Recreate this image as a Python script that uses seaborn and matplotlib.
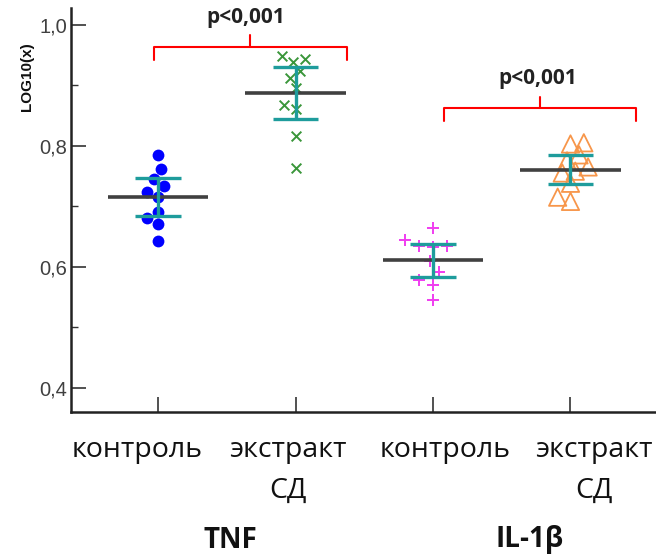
import numpy as np
import pandas as pd
import matplotlib
matplotlib.use("Agg")
import matplotlib.pyplot as plt
import matplotlib.transforms as mtransforms
from matplotlib.ticker import FixedLocator, FuncFormatter
import seaborn as sns

# ---------------- data ----------------
groups = ["TNF_control", "TNF_extract", "IL_control", "IL_extract"]
tick_labels = ["контроль", "экстракт\nСД", "контроль", "экстракт\nСД"]
cytokines = ["TNF", "IL-1β"]

tnf_control = [0.785, 0.761, 0.745, 0.733, 0.724, 0.716, 0.691, 0.680, 0.671, 0.643]
tnf_extract = [0.949, 0.943, 0.939, 0.923, 0.912, 0.895, 0.868, 0.861, 0.817, 0.763]
il_control = [0.664, 0.644, 0.635, 0.635, 0.633, 0.609, 0.591, 0.578, 0.570, 0.544]
il_extract = [0.805, 0.803, 0.785, 0.775, 0.765, 0.758, 0.755, 0.738, 0.715, 0.708]
values = [tnf_control, tnf_extract, il_control, il_extract]

p_labels = ["p<0,001", "p<0,001"]

df = pd.DataFrame({
    "group": np.repeat(groups, [len(v) for v in values]),
    "value": np.concatenate(values),
})

# ---------------- style ----------------
sns.set_theme(style="white")
plt.rcParams["font.family"] = ["Open Sans", "DejaVu Sans"]

fig = plt.figure(figsize=(6.56, 5.54), dpi=100)
W, H = 656, 554
ax = fig.add_axes([71 / W, 1 - 412 / H, (W - 71) / W, (412 - 8) / H])

styles = [
    dict(marker="o", color="#0000FF", size=8.5),
    dict(marker="x", color="#3A963A", size=7, linewidth=1.4),
    dict(marker="+", color="#F03CF0", size=8.5, linewidth=1.4),
    dict(marker="^", color="#F7964A", size=8, linewidth=1.2),
]

point_sets = []
for g, st in zip(groups, styles):
    sub = df[df["group"] == g]
    sns.swarmplot(data=sub, x="group", y="value", order=groups, ax=ax, **st)
    point_sets.append(ax.collections[-1])

blue, green, magenta, tri = point_sets
blue.set_edgecolor("none")
tri.set_facecolor("none")
tri.set_edgecolor("#F7964A")
tri.set_linewidth(1.3)

# mean and 95% CI
t_crit = 2.262  # t(0.975, df=9)
for i, v in enumerate(values):
    v = np.asarray(v)
    m = v.mean()
    se = v.std(ddof=1) / np.sqrt(len(v))
    lo, hi = m - t_crit * se, m + t_crit * se
    ax.hlines(m, i - 0.365, i + 0.365, color="#404040", lw=2.6, zorder=5)
    ax.vlines(i, lo, hi, color="#1E9C9C", lw=2.4, zorder=6)
    ax.hlines([lo, hi], i - 0.165, i + 0.165, color="#1E9C9C", lw=2.4, zorder=6)

# significance brackets
brackets = [
    dict(x0=-0.03, x1=1.375, top=0.964, leg=0.942, xc=0.67, tick=0.983, xt=0.64, yt=1.012),
    dict(x0=2.08, x1=3.48, top=0.863, leg=0.841, xc=2.78, tick=0.881, xt=2.76, yt=0.912),
]
for b, lab in zip(brackets, p_labels):
    ax.plot([b["x0"], b["x0"], b["x1"], b["x1"]], [b["leg"], b["top"], b["top"], b["leg"]],
            color="#FF0000", lw=1.5, clip_on=False, zorder=7)
    ax.plot([b["xc"], b["xc"]], [b["top"], b["tick"]], color="#FF0000", lw=1.5,
            clip_on=False, zorder=7)
    ax.text(b["xt"], b["yt"], lab, ha="center", va="center", fontsize=15,
            fontweight="bold", color="#222222", clip_on=False)

# axes
ax.set_xlim(-0.633, 3.622)
ax.set_ylim(0.3595, 1.028)
ax.set_yticks([0.4, 0.6, 0.8, 1.0])
ax.yaxis.set_minor_locator(FixedLocator([0.5, 0.7, 0.9]))
ax.yaxis.set_major_formatter(FuncFormatter(lambda v, p: f"{v:.1f}".replace(".", ",")))
ax.tick_params(axis="y", which="major", direction="in", length=11, width=1.2,
               color="#333333", labelsize=14.5, pad=3, left=True, labelcolor="#404040")
ax.tick_params(axis="y", which="minor", direction="in", length=5, width=1.0,
               color="#333333", left=True)
for lbl in ax.get_yticklabels():
    lbl.set_family("Liberation Sans")

ax.set_xticks(range(len(groups)))
ax.set_xticklabels([""] * len(groups))
ax.tick_params(axis="x", direction="in", length=11, width=1.2, color="#333333", bottom=True)
ax.set_xlabel("")
ax.set_ylabel("")

for s in ["top", "right"]:
    ax.spines[s].set_visible(False)
for s in ["left", "bottom"]:
    ax.spines[s].set_linewidth(1.8)
    ax.spines[s].set_color("#222222")

# category labels (placed as in the reference, slightly off-centre)
label_dx = [-21, -7.5, 12, 23.5]
trans = mtransforms.blended_transform_factory(ax.transData, ax.transAxes)
for i, (lab, dx) in enumerate(zip(tick_labels, label_dx)):
    t = trans + mtransforms.ScaledTranslation(dx / 100, 0, fig.dpi_scale_trans)
    ax.text(i, -24 / 404, lab, transform=t, ha="center", va="top", fontsize=20.5,
            linespacing=1.6, color="#111111", clip_on=False)

fig.text(230 / W, 1 - 540 / H, cytokines[0], ha="center", va="center", fontsize=20,
         fontweight="bold", color="#111111")
fig.text(530 / W, 1 - 540 / H, cytokines[1], ha="center", va="center", fontsize=20,
         fontweight="bold", color="#111111")

fig.text(27 / W, 1 - 77 / H, "LOG10(x)", rotation=90, ha="center", va="center",
         fontsize=11, fontweight="bold", family="Liberation Sans", color="#111111")

# lay out the swarm once, then draw the open triangles at their full size
fig.canvas.draw()
if "draw" in tri.__dict__:
    del tri.draw
tri.set_sizes([12.5 ** 2])

fig.savefig("out.png", dpi=100)
